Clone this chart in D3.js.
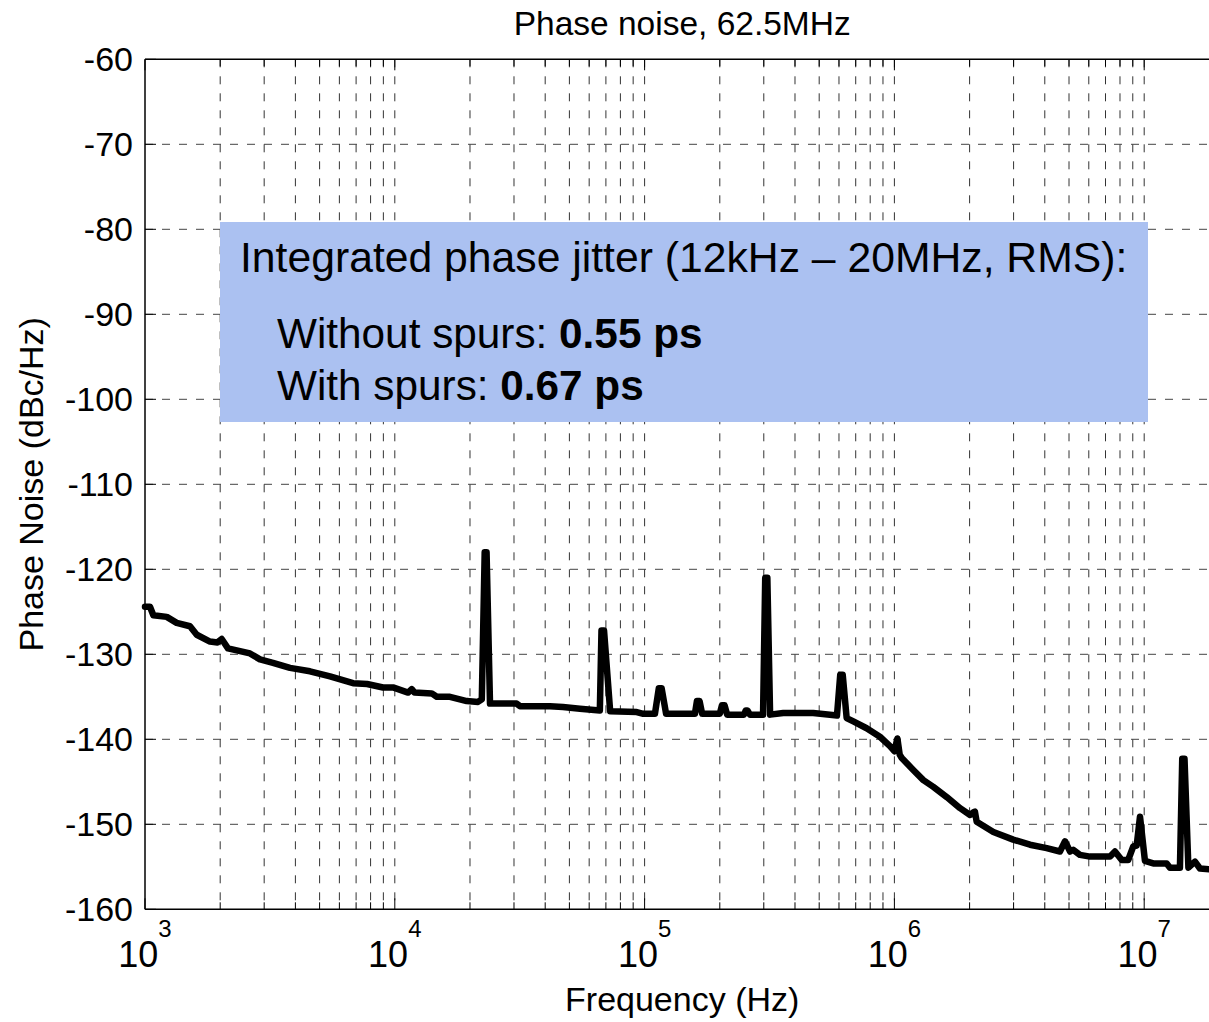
<!DOCTYPE html>
<html>
<head>
<meta charset="utf-8">
<script src="https://cdnjs.cloudflare.com/ajax/libs/d3/7.8.5/d3.min.js"></script>
<style>
  body { margin: 0; background: #fff; overflow: hidden; }
  svg { display: block; font-family: "Liberation Sans", Arial, Helvetica, sans-serif; }
</style>
</head>
<body>
<div id="chart"></div>
<script>
var freqHz = [
  1000, 1047, 1080, 1222, 1339, 1514, 1611, 1820, 1950, 2028, 2148, 2631, 2886, 3253,
  3805, 4575, 5504, 6806, 7745, 8973, 9835, 11300, 11690, 12000, 14060, 14720, 16630,
  19410, 21530, 22300, 22900, 23300, 24050, 30740, 31700, 41800, 47100, 55100, 66200,
  67200, 68800, 72800, 93000, 98800, 110000, 114000, 117000, 121900, 159000, 162000,
  166000, 170000, 200000, 204000, 209000, 214000, 250000, 254000, 258000, 264000,
  298000, 304000, 310000, 318000, 359000, 473000, 552000, 589000, 607000, 621000,
  644000, 685000, 774000, 875000, 960000, 1000000, 1028000, 1050000, 1070000, 1190000,
  1306000, 1432000, 1620000, 1832000, 2009000, 2070000, 2100000, 2135000, 2490000,
  2990000, 3490000, 4070000, 4600000, 4820000, 5050000, 5200000, 5530000, 6070000,
  7300000, 7640000, 8130000, 8630000, 9040000, 9330000, 9620000, 10070000, 10870000,
  12300000, 12680000, 13900000, 14200000, 14500000, 15030000, 15970000, 16720000,
  18200000, 20000000
];
var noiseDbc = [
  -124.4, -124.4, -125.4, -125.6, -126.3, -126.7, -127.7, -128.5, -128.6, -128.2, -129.3, -129.9, -130.6, -131.0,
  -131.6, -132.0, -132.6, -133.4, -133.5, -133.9, -133.9, -134.5, -134.1, -134.5, -134.6, -135.0, -135.0,
  -135.5, -135.6, -135.3, -118.0, -118.0, -135.8, -135.8, -136.1, -136.1, -136.2, -136.4, -136.6,
  -127.2, -127.2, -136.7, -136.8, -137.0, -137.0, -134.0, -134.0, -137.0, -137.0, -135.5,
  -135.5, -137.0, -137.0, -136.0, -136.0, -137.1, -137.1, -136.6, -136.6, -137.1,
  -137.1, -121.0, -121.0, -137.1, -136.9, -136.9, -137.1, -137.2, -132.4, -132.4,
  -137.5, -137.9, -138.7, -139.7, -140.8, -141.4, -139.9, -141.8, -142.2, -143.6,
  -144.8, -145.6, -146.8, -148.1, -148.9, -148.6, -148.5, -149.7, -150.9,
  -151.8, -152.4, -152.8, -153.2, -152.0, -153.2, -153.0, -153.6, -153.8,
  -153.8, -153.2, -154.2, -154.2, -152.6, -152.5, -149.1, -154.3, -154.6,
  -154.6, -155.1, -155.1, -142.3, -142.3, -155.1, -154.4, -155.2,
  -155.3, -155.3
];

var yTicks = [-160, -150, -140, -130, -120, -110, -100, -90, -80, -70, -60];
var decadeExps = [3, 4, 5, 6, 7];

var titleText = "Phase noise, 62.5MHz";
var xLabel = "Frequency (Hz)";
var yLabel = "Phase Noise (dBc/Hz)";
var boxTitle = "Integrated phase jitter (12kHz \u2013 20MHz, RMS):";
var jitterNames = ["Without spurs: ", "With spurs: "];
var jitterValues = ["0.55 ps", "0.67 ps"];

var W = 1209, H = 1022;
var plotLeft = 145, plotTop = 59.3, plotBottom = 909.3;
var decadePx = 249.8;

var x = d3.scaleLog().domain([1e3, 2e7]).range([plotLeft, plotLeft + decadePx * Math.log10(2e4)]);
var y = d3.scaleLinear().domain([-160, -60]).range([plotBottom, plotTop]);

// all grid positions: 1..9 x 10^n up to 2e7
var gridX = [];
decadeExps.forEach(function(e) {
  for (var m = 1; m <= 9; m++) {
    var v = m * Math.pow(10, e);
    if (v <= 2e7) gridX.push(v);
  }
});

var svg = d3.select('#chart').append('svg')
  .attr('width', W)
  .attr('height', H);

svg.append('rect').attr('width', W).attr('height', H).attr('fill', '#fff');

// vertical grid
svg.append('g').selectAll('line').data(gridX.filter(function(d) { return d > 1e3; }))
  .enter().append('line')
  .attr('x1', function(d) { return x(d); })
  .attr('x2', function(d) { return x(d); })
  .attr('y1', plotTop).attr('y2', plotBottom)
  .attr('stroke', '#333').attr('stroke-width', 1)
  .attr('stroke-dasharray', '8,9');

// horizontal grid
svg.append('g').selectAll('line').data(yTicks.slice(1, -1))
  .enter().append('line')
  .attr('x1', plotLeft).attr('x2', W + 20)
  .attr('y1', function(d) { return y(d); })
  .attr('y2', function(d) { return y(d); })
  .attr('stroke', '#444').attr('stroke-width', 1)
  .attr('stroke-dasharray', '8,9');

// ticks (inward) on bottom / top
var tickG = svg.append('g').attr('stroke', '#000').attr('stroke-width', 1);
gridX.forEach(function(d) {
  var major = Math.abs(Math.log10(d) - Math.round(Math.log10(d))) < 1e-6;
  var len = major ? 11 : 7;
  tickG.append('line').attr('x1', x(d)).attr('x2', x(d)).attr('y1', plotBottom).attr('y2', plotBottom - len);
  tickG.append('line').attr('x1', x(d)).attr('x2', x(d)).attr('y1', plotTop).attr('y2', plotTop + len);
});
yTicks.forEach(function(d) {
  tickG.append('line').attr('x1', plotLeft).attr('x2', plotLeft + 11).attr('y1', y(d)).attr('y2', y(d));
});

// text box
svg.append('rect')
  .attr('x', 220).attr('y', 222)
  .attr('width', 928).attr('height', 200)
  .attr('fill', '#abc1f1');

svg.append('text')
  .attr('x', 240).attr('y', 272)
  .attr('font-size', 42.7)
  .text(boxTitle);

jitterNames.forEach(function(name, i) {
  var t = svg.append('text')
    .attr('x', 277).attr('y', 348 + i * 52)
    .attr('font-size', 42.3);
  t.append('tspan').text(name);
  t.append('tspan').attr('font-weight', 'bold').text(jitterValues[i]);
});

// curve
var line = d3.line()
  .x(function(d) { return x(d[0]); })
  .y(function(d) { return y(d[1]); });

svg.append('path')
  .datum(d3.zip(freqHz, noiseDbc))
  .attr('fill', 'none')
  .attr('stroke', '#000')
  .attr('stroke-width', 6.5)
  .attr('stroke-linejoin', 'round')
  .attr('stroke-linecap', 'round')
  .attr('d', line);

// axes box
svg.append('line').attr('x1', plotLeft).attr('x2', W + 20).attr('y1', plotTop).attr('y2', plotTop)
  .attr('stroke', '#000').attr('stroke-width', 1.5);
svg.append('line').attr('x1', plotLeft).attr('x2', W + 20).attr('y1', plotBottom).attr('y2', plotBottom)
  .attr('stroke', '#000').attr('stroke-width', 1.5);
svg.append('line').attr('x1', plotLeft).attr('x2', plotLeft).attr('y1', plotTop).attr('y2', plotBottom)
  .attr('stroke', '#000').attr('stroke-width', 1.5);

// y tick labels
svg.append('g').selectAll('text').data(yTicks)
  .enter().append('text')
  .attr('x', 133)
  .attr('y', function(d) { return y(d) + 12; })
  .attr('text-anchor', 'end')
  .attr('font-size', 34)
  .text(function(d) { return d; });

// x tick labels 10^n
decadeExps.forEach(function(e) {
  var t = svg.append('text')
    .attr('x', x(Math.pow(10, e)))
    .attr('y', 967)
    .attr('text-anchor', 'middle')
    .attr('font-size', 36);
  t.append('tspan').text('10');
  t.append('tspan').attr('dy', -30).attr('font-size', 24).text(e);
});

// titles
svg.append('text')
  .attr('x', (plotLeft + x(2e7)) / 2).attr('y', 35)
  .attr('text-anchor', 'middle')
  .attr('font-size', 33.5)
  .text(titleText);

svg.append('text')
  .attr('x', (plotLeft + x(2e7)) / 2).attr('y', 1011)
  .attr('text-anchor', 'middle')
  .attr('font-size', 34)
  .text(xLabel);

svg.append('text')
  .attr('transform', 'translate(43,' + ((plotTop + plotBottom) / 2) + ') rotate(-90)')
  .attr('text-anchor', 'middle')
  .attr('font-size', 34)
  .text(yLabel);
</script>
</body>
</html>
